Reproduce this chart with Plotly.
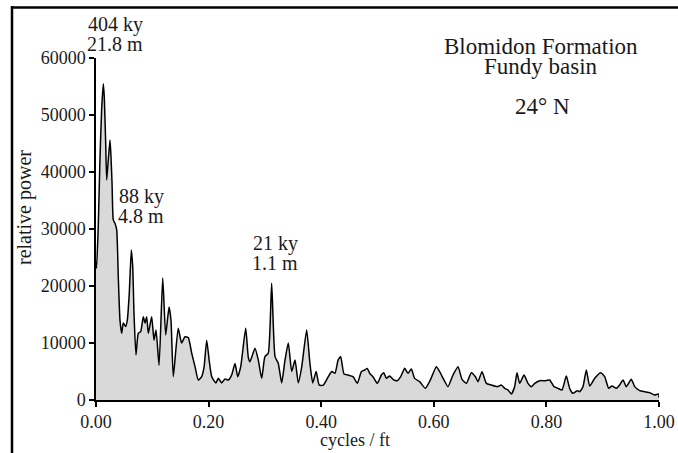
import plotly.graph_objects as go

# frequency (cycles / ft) and relative power
freq = [0.000, 0.001, 0.004, 0.007, 0.010, 0.013, 0.0147, 0.0172, 0.019, 0.0218,
        0.0249, 0.0266, 0.0285, 0.0307, 0.0337, 0.0368, 0.0396, 0.0426, 0.0456, 0.0485,
        0.0528, 0.0556, 0.0591, 0.0627, 0.0652, 0.0675, 0.071, 0.0751, 0.0794, 0.084,
        0.087, 0.090, 0.0929, 0.0989, 0.103, 0.1066, 0.112, 0.1185, 0.1238, 0.1297,
        0.1332, 0.1373, 0.146, 0.152, 0.158, 0.164, 0.170, 0.176, 0.1817, 0.1877,
        0.192, 0.1966, 0.201, 0.2055, 0.213, 0.2172, 0.2233, 0.229, 0.235, 0.241,
        0.2469, 0.2517, 0.257, 0.2659, 0.2705, 0.2735, 0.2824, 0.2883, 0.2943, 0.300,
        0.306, 0.312, 0.318, 0.3238, 0.3298, 0.3357, 0.3416, 0.3476, 0.3535, 0.3593,
        0.3654, 0.3742, 0.380, 0.385, 0.391, 0.3966, 0.4037, 0.4126, 0.4187, 0.4245,
        0.430, 0.4346, 0.4405, 0.4476, 0.4565, 0.4642, 0.4713, 0.4772, 0.4819, 0.4861,
        0.492, 0.4997, 0.5068, 0.511, 0.5157, 0.5216, 0.5275, 0.5352, 0.5412, 0.5483,
        0.5542, 0.5601, 0.566, 0.5749, 0.585, 0.5944, 0.6045, 0.6104, 0.6181, 0.6252,
        0.6341, 0.643, 0.6501, 0.6578, 0.6667, 0.6738, 0.6785, 0.6856, 0.6933, 0.7022,
        0.7128, 0.7199, 0.7259, 0.7318, 0.7377, 0.7436, 0.7478, 0.7525, 0.7602, 0.7673,
        0.7732, 0.7792, 0.7881, 0.797, 0.8058, 0.8135, 0.8206, 0.8277, 0.8354, 0.8413,
        0.8472, 0.8549, 0.8591, 0.865, 0.8709, 0.8769, 0.8858, 0.8964, 0.9035, 0.9106,
        0.9165, 0.9242, 0.9301, 0.9361, 0.942, 0.9508, 0.9568, 0.9657, 0.9746, 0.9834,
        0.9923, 0.9994, 1.000]

power = [24300, 23100, 30400, 42100, 50900, 55500, 53200, 45000, 38600, 42100,
         45600, 42700, 38000, 31600, 31000, 29800, 21600, 14000, 11700, 13500,
         12900, 14000, 18700, 26300, 23400, 15200, 7900, 11700, 12000, 14600,
         13500, 14600, 11700, 14600, 10500, 12300, 6100, 21400, 11400, 16300,
         14000, 4100, 12600, 10000, 11100, 10900, 8200, 5800, 3500, 4100,
         5800, 10500, 7000, 4100, 3000, 3800, 3000, 3700, 3500, 4400,
         6400, 4100, 5800, 12600, 7500, 6700, 9100, 7000, 3800, 7600,
         8200, 20500, 7600, 6400, 3000, 7000, 10000, 5000, 7000, 3000,
         5800, 12300, 6400, 3000, 5000, 2600, 2600, 4100, 5000, 4700,
         7000, 7600, 4560, 4385, 4090, 2920, 4970, 5260, 5550, 4680,
         4090, 2920, 4385, 4800, 3800, 4210, 3625, 3390, 4090, 5550,
         4680, 5440, 3800, 3215, 2045, 3625, 5850, 4970, 3510, 2340,
         4385, 5850, 3625, 2920, 4800, 4090, 3215, 4970, 2920, 2630,
         2340, 2630, 2045, 1754, 1050, 2340, 4800, 2920, 4385, 2920,
         2340, 2920, 3390, 3390, 3510, 2340, 2045, 1754, 4210, 2045,
         1170, 1640, 1460, 2340, 5260, 2455, 3800, 4800, 4090, 2045,
         2455, 2045, 2630, 3510, 2340, 3625, 2340, 1640, 1460, 1290,
         877, 1050, 400]

x_ticks = [0.0, 0.2, 0.4, 0.6, 0.8, 1.0]
x_tick_labels = ["0.00", "0.20", "0.40", "0.60", "0.80", "1.00"]
y_ticks = [0, 10000, 20000, 30000, 40000, 50000, 60000]
y_tick_labels = ["0", "10000", "20000", "30000", "40000", "50000", "60000"]

FONT = "Liberation Serif, Times New Roman, serif"
TXT = "#1a1a1a"

fig = go.Figure()
fig.add_trace(go.Scatter(
    x=freq, y=power, mode="lines", fill="tozeroy",
    fillcolor="#d9d9d9", line=dict(color="black", width=1.5, shape="spline", smoothing=0.5),
    hoverinfo="skip", showlegend=False,
))

L, R, T, B = 96, 19, 58, 53
W, H = 678, 453
pw, ph = W - L - R, H - T - B

fig.update_layout(
    width=W, height=H, autosize=False,
    margin=dict(l=L, r=R, t=T, b=B, pad=0),
    paper_bgcolor="white", plot_bgcolor="white",
    font=dict(family=FONT, size=18, color=TXT),
    showlegend=False,
    xaxis=dict(range=[0, 1], tickvals=x_ticks, ticktext=x_tick_labels,
               showgrid=False, zeroline=False, showline=True, linecolor="black",
               linewidth=1.5, ticks="outside", ticklen=5, tickwidth=1.5,
               tickcolor="black", automargin=False,
               tickfont=dict(family=FONT, size=18, color=TXT)),
    yaxis=dict(range=[0, 60000], tickvals=y_ticks, ticktext=y_tick_labels,
               showgrid=False, zeroline=False, showline=True, linecolor="black",
               linewidth=1.5, ticks="outside", ticklen=5, tickwidth=1.5,
               tickcolor="black", automargin=False,
               tickfont=dict(family=FONT, size=18, color=TXT)),
)

def px_x(p):
    return (p - L) / pw

def px_y(p):
    return (H - B - p) / ph

# figure frame (left and top edges visible)
fig.add_shape(type="line", xref="paper", yref="paper",
              x0=px_x(12), x1=px_x(12), y0=px_y(453), y1=px_y(6),
              line=dict(color="black", width=2.5))
fig.add_shape(type="line", xref="paper", yref="paper",
              x0=px_x(11), x1=px_x(678), y0=px_y(7.5), y1=px_y(7.5),
              line=dict(color="black", width=2.5))

def note(text, xc, ymid, size=20, xanchor="center"):
    fig.add_annotation(text=text, xref="paper", yref="paper",
                       x=px_x(xc), y=px_y(ymid), xanchor=xanchor, yanchor="middle",
                       showarrow=False,
                       font=dict(family=FONT, size=size, color=TXT))

note("404 ky", 115, 24, 20)
note("21.8 m", 115, 44, 20)
note("88 ky", 117, 196, 20, "left")
note("4.8 m", 116, 216, 20, "left")
note("21 ky", 275, 243, 20)
note("1.1 m", 275, 263, 20)
note("Blomidon Formation", 541, 47, 23)
note("Fundy basin", 541, 67, 23)
note("24° N", 542, 106, 23)
note("cycles / ft", 355, 440, 18)

fig.add_annotation(text="relative power", xref="paper", yref="paper",
                   x=px_x(24), y=px_y(208), xanchor="center", yanchor="middle",
                   textangle=-90, showarrow=False,
                   font=dict(family=FONT, size=20, color=TXT))

fig.write_html(
    "out.html",
    config={"displayModeBar": False, "responsive": False},
    post_script=(
        "var s=document.createElement('style');"
        "s.textContent='html,body{margin:0;padding:0;overflow:hidden;scrollbar-width:none;}"
        "::-webkit-scrollbar{display:none;width:0;height:0;}"
        ".plotly-graph-div{display:block;}';"
        "document.head.appendChild(s);"
        "window.scrollTo(0,0);"
    ),
)
